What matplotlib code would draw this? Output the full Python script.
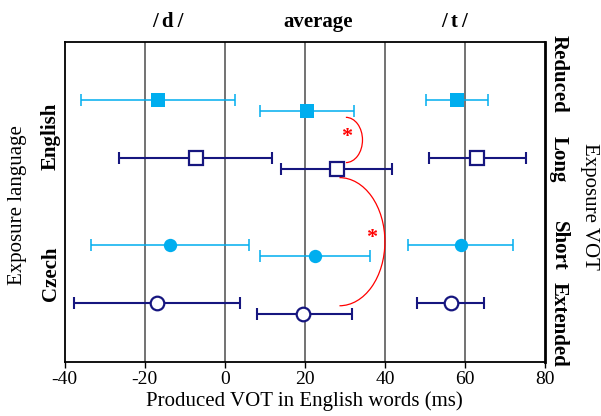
import matplotlib
matplotlib.use("Agg")
import matplotlib.pyplot as plt
from matplotlib.patches import Arc
import matplotlib.transforms as mtransforms

plt.rcParams['font.family'] = ['Liberation Serif', 'DejaVu Serif']

# conditions, top to bottom
conditions = ['Reduced', 'Long', 'Short', 'Extended']
row_pos = [1.0, 2.0, 3.5, 4.5]
avg_offset = 0.2

# produced VOT (ms): mean, lower and upper end of error bar
d_mean = [-16.7, -7.3, -13.7, -17.0]
d_lo = [-36.0, -26.4, -33.5, -37.7]
d_hi = [2.5, 11.9, 6.0, 3.8]

avg_mean = [20.5, 28.0, 22.5, 19.6]
avg_lo = [8.9, 14.0, 8.7, 8.0]
avg_hi = [32.3, 41.7, 36.4, 31.7]

t_mean = [57.9, 63.1, 58.9, 56.4]
t_lo = [50.3, 51.1, 45.7, 47.9]
t_hi = [65.8, 75.3, 71.9, 64.7]

light = '#00aeef'
navy = '#16167f'
# marker, filled?, colour, size for each condition
styles = [('s', True, light, 10.0), ('s', False, navy, 9.4),
          ('o', True, light, 9.6), ('o', False, navy, 9.8)]

fig = plt.figure(figsize=(6.01, 4.16), dpi=100)
ax = fig.add_axes([0.1077, 0.1305, 0.7991, 0.7693])

def draw(means, los, his, dy):
    for i in range(4):
        m, filled, c, ms = styles[i]
        y = row_pos[i] + dy
        lw = 1.1 if filled else 1.5
        ax.errorbar(means[i], y, xerr=[[means[i] - los[i]], [his[i] - means[i]]],
                    fmt='none', ecolor=c, elinewidth=lw, capsize=4.3, capthick=lw, zorder=3)
        ax.plot(means[i], y, marker=m, ms=ms, mfc=c if filled else 'white',
                mec=c, mew=0 if filled else 1.6, ls='none', zorder=4)

draw(d_mean, d_lo, d_hi, 0)
draw(avg_mean, avg_lo, avg_hi, avg_offset)
draw(t_mean, t_lo, t_hi, 0)

# significance arcs
ax.add_patch(Arc((30.25, 1.695), 8.3, 0.78, theta1=-90, theta2=90, color='red', lw=0.9, zorder=2))
ax.add_patch(Arc((28.65, 3.45), 22.7, 2.21, theta1=-90, theta2=90, color='red', lw=0.9, zorder=2))
ax.text(30.4, 1.64, '*', color='red', fontsize=16, fontweight='bold', ha='center', va='center')
ax.text(36.7, 3.38, '*', color='red', fontsize=16, fontweight='bold', ha='center', va='center')

ax.set_xlim(-40, 80)
ax.set_ylim(5.52, 0)
ax.set_xticks([-40, -20, 0, 20, 40, 60, 80])
ax.set_xticklabels(['-40', '-20', '0', '20', '40', '60', '80'], fontsize=14)
ax.set_yticks([])
ax.tick_params(axis='x', direction='out', length=4, width=1, pad=3)
for x in [-20, 0, 20, 40, 60]:
    ax.axvline(x, color='#5a5a5a', lw=1.2, zorder=1)

for side in ['left', 'top', 'bottom']:
    ax.spines[side].set_linewidth(1.3)
ax.spines['right'].set_linewidth(2.0)

ax.set_xlabel('Produced VOT in English words (ms)', fontsize=15, labelpad=2)

# column headings
for x, s in [(-14.3, '/\u2009d\u2009/'), (23.3, 'average'), (57.3, '/\u2009t\u2009/')]:
    ax.text(x, 1.06, s, transform=ax.get_xaxis_transform(), ha='center', va='center',
            fontsize=15, fontweight='bold')

# right side condition labels
trans_r = mtransforms.blended_transform_factory(ax.transAxes, ax.transData)
label_y = [0.56, 2.02, 3.52, 4.88]
for s, y in zip(conditions, label_y):
    ax.text(1.029, y, s, transform=trans_r, rotation=-90, ha='center', va='center',
            fontsize=15, fontweight='bold')
fig.text(589 / 601, 1 - 206 / 416, 'Exposure VOT', rotation=-90, ha='center', va='center', fontsize=15)

# left side language labels
trans_l = mtransforms.blended_transform_factory(fig.transFigure, ax.transData)
ax.text(51 / 601, 1.63, 'English', transform=trans_l, rotation=90, ha='center', va='center',
        fontsize=15, fontweight='bold')
ax.text(51 / 601, 4.0, 'Czech', transform=trans_l, rotation=90, ha='center', va='center',
        fontsize=15, fontweight='bold')
fig.text(18 / 601, 1 - 205 / 416, 'Exposure language', rotation=90, ha='center', va='center', fontsize=15)

fig.savefig('out.png', dpi=100)
